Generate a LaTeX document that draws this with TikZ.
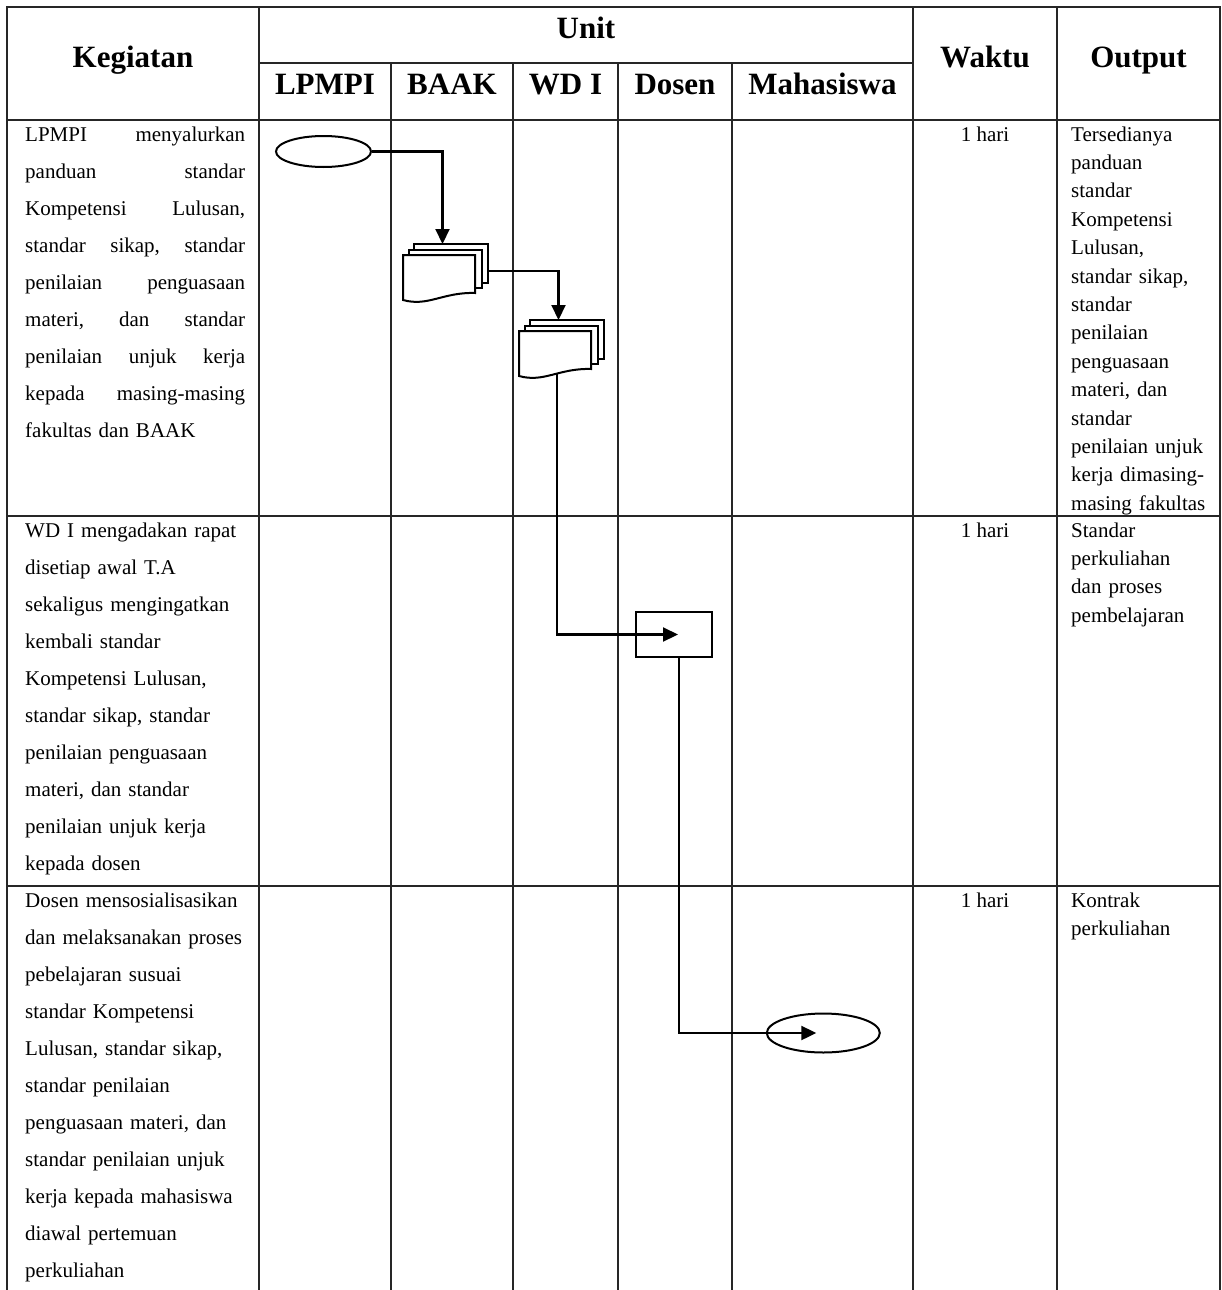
\documentclass[tikz,border=0pt]{standalone}
\usepackage{fontspec}
\setmainfont{Liberation Serif}
\usetikzlibrary{arrows.meta,shapes.geometric}
\begin{document}
\begin{tikzpicture}[x=1pt,y=-1pt,
  grid/.style={line width=1.5pt,draw=black!85,line cap=rect},
  conn/.style={line width=2.1pt,-{Triangle[length=15pt,width=14pt]}},
  hd/.style={font=\fontsize{31}{36}\selectfont\bfseries,inner sep=0,anchor=base},
  body/.style={font=\fontsize{21}{37}\selectfont,inner sep=0,anchor=base west,text width=220pt,align=left},
  outp/.style={font=\fontsize{21}{28.4}\selectfont,inner sep=0,anchor=base west,text width=150pt,align=left},
  wk/.style={font=\fontsize{21}{25}\selectfont,inner sep=0,anchor=base},
  term/.style={ellipse,draw,line width=2pt,fill=white,inner sep=0},
  proc/.style={rectangle,draw,line width=2pt,fill=white,inner sep=0},
  docstack/.pic={
    \draw[line width=2pt,fill=white] (11,-11) rectangle (85,28);
    \draw[line width=2pt,fill=white] (5.5,-5.5) rectangle (78.5,33);
    \draw[line width=2pt,fill=white] (0,0) -- (72,0) -- (72,38)
       .. controls (40,37) and (25,52) .. (0,45) -- cycle;
    \coordinate (-in) at (39.5,-11);
    \coordinate (-out) at (85,16);
    \coordinate (-bot) at (38,43);
  }
]
\useasboundingbox (0,0) rectangle (1222,1290);

% table grid
\draw[grid] (7,1290) -- (7,7) -- (1220,7) -- (1220,1290);
\foreach \x in {259,913,1057} \draw[grid] (\x,7) -- (\x,1290);
\foreach \x in {391,513,618,732} \draw[grid] (\x,63) -- (\x,1290);
\draw[grid] (259,63) -- (913,63);
\foreach \y in {120,516,886} \draw[grid] (7,\y) -- (1220,\y);

% headers
\node[hd] (hK) at (133,67) {Kegiatan};
\node[hd] (hU) at (586,39) {Unit};
\node[hd] (hL) at (325,95) {LPMPI};
\node[hd] (hB) at (452,95) {BAAK};
\node[hd] (hW) at (565.5,95) {WD I};
\node[hd] (hD) at (675,95) {Dosen};
\node[hd] (hM) at (822.5,95) {Mahasiswa};
\node[hd] (hT) at (985,67) {Waktu};
\node[hd] (hO) at (1138.5,67) {Output};

% row 1
\node[body] (k1) at (25,141) {LPMPI\hfill menyalurkan\\
panduan\hfill standar\\
Kompetensi\hfill Lulusan,\\
standar\hfill sikap,\hfill standar\\
penilaian\hfill penguasaan\\
materi,\hfill dan\hfill standar\\
penilaian\hfill unjuk\hfill kerja\\
kepada\hfill masing-masing\\
fakultas dan BAAK};
\node[wk] (w1) at (985,141) {1 hari};
\node[outp] (o1) at (1071,141) {Tersedianya\\ panduan\\ standar\\ Kompetensi\\ Lulusan,\\ standar sikap,\\ standar\\ penilaian\\ penguasaan\\ materi, dan\\ standar\\ penilaian unjuk\\ kerja dimasing-\\ masing fakultas};

% row 2
\node[body,text width=230pt] (k2) at (25,537) {WD I mengadakan rapat\\
disetiap awal T.A\\
sekaligus mengingatkan\\
kembali standar\\
Kompetensi Lulusan,\\
standar sikap, standar\\
penilaian penguasaan\\
materi, dan standar\\
penilaian unjuk kerja\\
kepada dosen};
\node[wk] (w2) at (985,537) {1 hari};
\node[outp] (o2) at (1071,537) {Standar\\ perkuliahan\\ dan proses\\ pembelajaran};

% row 3
\node[body,text width=230pt] (k3) at (25,907) {Dosen mensosialisasikan\\
dan melaksanakan proses\\
pebelajaran susuai\\
standar Kompetensi\\
Lulusan, standar sikap,\\
standar penilaian\\
penguasaan materi, dan\\
standar penilaian unjuk\\
kerja kepada mahasiswa\\
diawal pertemuan\\
perkuliahan};
\node[wk] (w3) at (985,907) {1 hari};
\node[outp] (o3) at (1071,907) {Kontrak\\ perkuliahan};

% flow shapes
\node[term,minimum width=95pt,minimum height=31pt] (start) at (323.5,151.5) {};
\pic (s1) at (403,255) {docstack};
\pic (s2) at (519,331) {docstack};
\node[proc,minimum width=76pt,minimum height=45pt] (pr) at (674,634.5) {};
\node[term,minimum width=113pt,minimum height=39pt] (fin) at (823.3,1033) {};

% connectors
\draw[conn] (start.east) -| (s1-in);
\draw[conn] (s1-out) -| (s2-in);
\draw[conn] (s2-bot) |- ([xshift=4pt]pr.center);
\draw[conn] ([xshift=5pt]pr.south) |- ([xshift=-7pt]fin.center);
\end{tikzpicture}
\end{document}
